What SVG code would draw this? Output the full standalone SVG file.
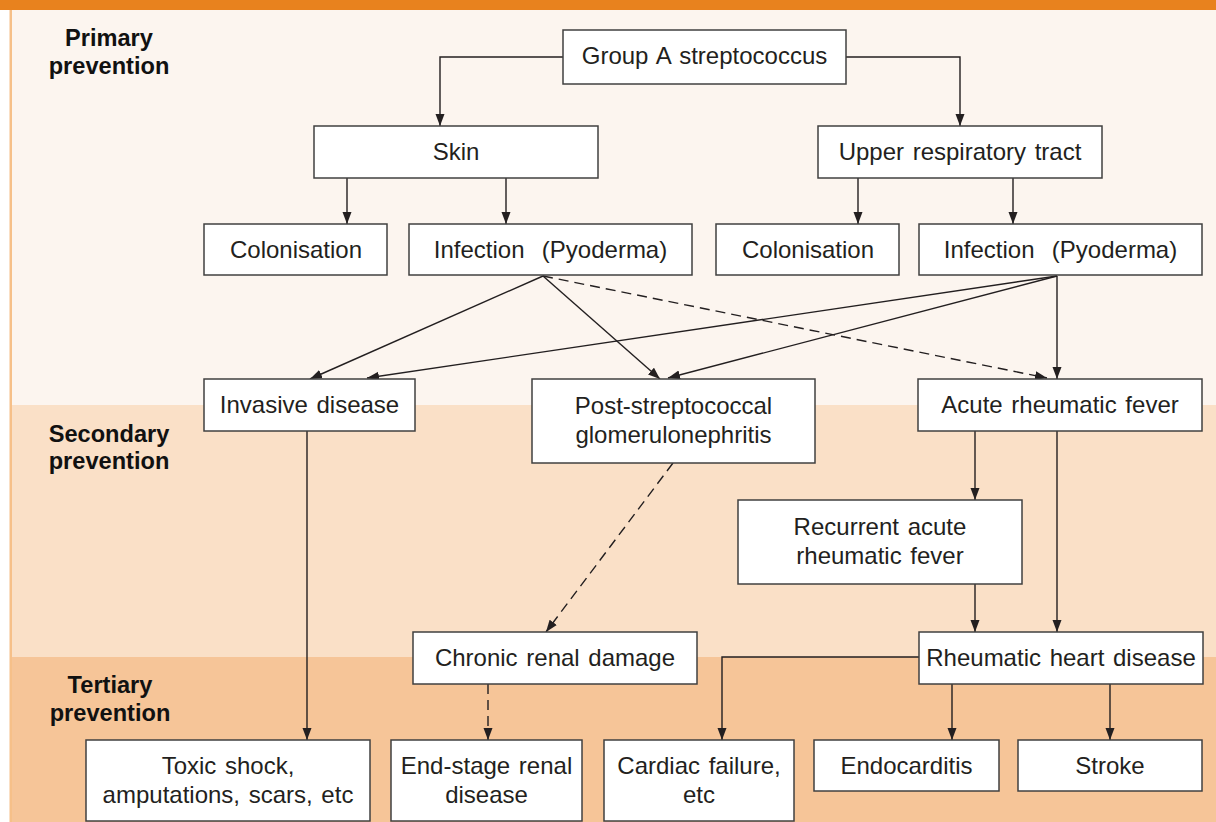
<svg xmlns="http://www.w3.org/2000/svg" width="1216" height="822" viewBox="0 0 1216 822">
<defs>
<marker id="ah" markerUnits="userSpaceOnUse" markerWidth="12" markerHeight="10" refX="12" refY="5" orient="auto">
<path d="M0,0.5 L12,5 L0,9.5 z" fill="#231f20"/>
</marker>
<style>
.box{fill:#fff;stroke:#404040;stroke-width:1.5}
.t{font-family:"Liberation Sans",Arial,sans-serif;font-size:24px;word-spacing:2px;fill:#231f20;text-anchor:middle}
.h{font-family:"Liberation Sans",Arial,sans-serif;font-size:23.6px;font-weight:bold;fill:#111;text-anchor:middle}
.c{fill:none;stroke:#231f20;stroke-width:1.4;marker-end:url(#ah)}
.d{stroke-dasharray:10 6}
</style>
</defs>
<g id="background">
<rect x="0" y="0" width="1216" height="822" fill="#ffffff"/>
<rect x="10" y="10" width="1206" height="395" fill="#fcf5ef"/>
<rect x="10" y="405" width="1206" height="252" fill="#fae0c7"/>
<rect x="10" y="657" width="1206" height="165" fill="#f6c598"/>
<rect x="0" y="0" width="1216" height="10" fill="#e8821e"/>
<rect x="9.5" y="10" width="2.5" height="812" fill="#f6c089"/>
</g>
<g id="labels">
<text class="h" x="109" y="46">Primary</text>
<text class="h" x="109" y="74">prevention</text>
<text class="h" x="109" y="442">Secondary</text>
<text class="h" x="109" y="469">prevention</text>
<text class="h" x="110" y="693">Tertiary</text>
<text class="h" x="110" y="721">prevention</text>
</g>
<g id="connectors">
<path class="c" d="M563,57 H440 V126"/>
<path class="c" d="M846,57 H960 V126"/>
<path class="c" d="M347,178 V224"/>
<path class="c" d="M506,178 V224"/>
<path class="c" d="M858,178 V224"/>
<path class="c" d="M1013,178 V224"/>
<path class="c" d="M543,276 L310,379"/>
<path class="c" d="M543,276 L660,379"/>
<path class="c d" d="M543,276 L1047,378"/>
<path class="c" d="M1057,276 L367,378"/>
<path class="c" d="M1057,276 L668,378"/>
<path class="c" d="M1057,276 V379"/>
<path class="c" d="M307,431 V740"/>
<path class="c d" d="M673,463 L546,632"/>
<path class="c d" d="M488,684 V740"/>
<path class="c" d="M975,431 V500"/>
<path class="c" d="M1057,431 V632"/>
<path class="c" d="M975,584 V632"/>
<path class="c" d="M919,657 H722 V740"/>
<path class="c" d="M952,684 V740"/>
<path class="c" d="M1110,684 V740"/>
</g>
<g id="n-gas"><rect class="box" x="563" y="30" width="283" height="54"/><text class="t" x="704.5" y="64">Group A streptococcus</text></g>
<g id="n-skin"><rect class="box" x="314" y="126" width="284" height="52"/><text class="t" x="456" y="160">Skin</text></g>
<g id="n-urt"><rect class="box" x="818" y="126" width="284" height="52"/><text class="t" x="960" y="160">Upper respiratory tract</text></g>
<g id="n-col1"><rect class="box" x="204" y="224" width="183" height="51"/><text class="t" x="296" y="258">Colonisation</text></g>
<g id="n-inf1"><rect class="box" x="409" y="224" width="283" height="51"/><text class="t" x="550.5" y="258" xml:space="preserve">Infection  (Pyoderma)</text></g>
<g id="n-col2"><rect class="box" x="716" y="224" width="183" height="51"/><text class="t" x="808" y="258">Colonisation</text></g>
<g id="n-inf2"><rect class="box" x="919" y="224" width="283" height="51"/><text class="t" x="1060.5" y="258" xml:space="preserve">Infection  (Pyoderma)</text></g>
<g id="n-inv"><rect class="box" x="204" y="379" width="211" height="52"/><text class="t" x="309.5" y="413">Invasive disease</text></g>
<g id="n-psgn"><rect class="box" x="532" y="379" width="283" height="84"/><text class="t" x="673.5" y="414">Post-streptococcal</text><text class="t" x="673.5" y="443">glomerulonephritis</text></g>
<g id="n-arf"><rect class="box" x="918" y="379" width="284" height="52"/><text class="t" x="1060" y="413">Acute rheumatic fever</text></g>
<g id="n-rarf"><rect class="box" x="738" y="500" width="284" height="84"/><text class="t" x="880" y="535">Recurrent acute</text><text class="t" x="880" y="564">rheumatic fever</text></g>
<g id="n-crd"><rect class="box" x="413" y="632" width="284" height="52"/><text class="t" x="555" y="666">Chronic renal damage</text></g>
<g id="n-rhd"><rect class="box" x="919" y="632" width="284" height="52"/><text class="t" x="1061" y="666">Rheumatic heart disease</text></g>
<g id="n-toxic"><rect class="box" x="86" y="740" width="284" height="81"/><text class="t" x="228" y="774">Toxic shock,</text><text class="t" x="228" y="803">amputations, scars, etc</text></g>
<g id="n-esrd"><rect class="box" x="391" y="740" width="191" height="81"/><text class="t" x="486.5" y="774">End-stage renal</text><text class="t" x="486.5" y="803">disease</text></g>
<g id="n-cf"><rect class="box" x="604" y="740" width="190" height="81"/><text class="t" x="699" y="774">Cardiac failure,</text><text class="t" x="699" y="803">etc</text></g>
<g id="n-endo"><rect class="box" x="814" y="740" width="185" height="51"/><text class="t" x="906.5" y="774">Endocarditis</text></g>
<g id="n-stroke"><rect class="box" x="1018" y="740" width="184" height="51"/><text class="t" x="1110" y="774">Stroke</text></g>
</svg>
